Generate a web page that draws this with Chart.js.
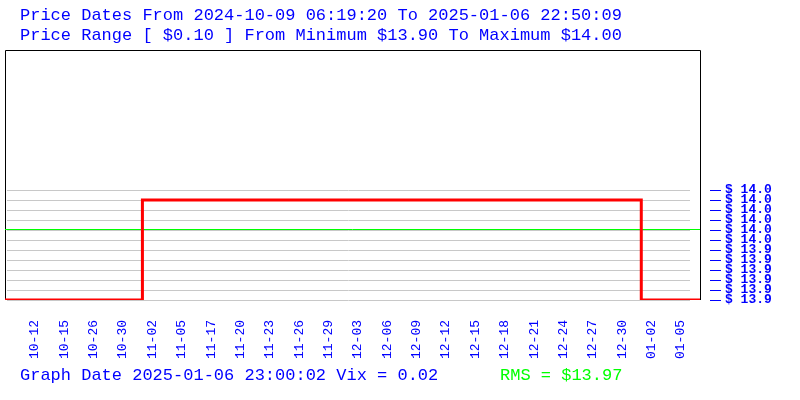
<!DOCTYPE html>
<html>
<head>
<meta charset="utf-8">
<script src="https://cdn.jsdelivr.net/npm/chart.js@4/dist/chart.umd.min.js"></script>
<style>
html,body{margin:0;padding:0;background:#fff;}
#wrap{width:800px;height:400px;position:relative;}
</style>
</head>
<body>
<div id="wrap"><canvas id="c" width="800" height="400"></canvas></div>
<script>
// ---- Data ----
const titleLines = [
  'Price Dates From 2024-10-09 06:19:20 To 2025-01-06 22:50:09',
  'Price Range [ $0.10 ] From Minimum $13.90 To Maximum $14.00'
];
const footerText = 'Graph Date 2025-01-06 23:00:02 Vix = 0.02';
const rmsText = 'RMS = $13.97';
const tickLabels = ['10-12','10-15','10-26','10-30','11-02','11-05','11-17','11-20','11-23','11-26','11-29','12-03','12-06','12-09','12-12','12-15','12-18','12-21','12-24','12-27','12-30','01-02','01-05'];
const samplesPerTick = 10;
const firstSample = -0.2;
const lastSample = 236.5;
const priceSamples = [-0.2, 46.6, 216.5, 236.5];
const priceValues = [13.90, 14.00, 13.90, 13.90];
const rmsValue = 13.9705;
const yTickValues = [13.90, 13.91, 13.92, 13.93, 13.94, 13.95, 13.96, 13.97, 13.98, 13.99, 14.00, 14.01];
const yMin = 13.90;
const yMax = 14.15;

const BLUE = '#0000ff';
const GREEN = '#00ff00';
const MONO = '"Liberation Mono", "DejaVu Sans Mono", monospace';

const pricePoints = priceSamples.map((s, i) => ({x: s, y: priceValues[i]}));
const rmsPoints = [{x: firstSample, y: rmsValue}, {x: lastSample, y: rmsValue}];

const decorPlugin = {
  id: 'decor',
  beforeDatasetsDraw(chart) {
    const {ctx, chartArea: a, scales} = chart;
    const ys = scales.y;
    ctx.save();
    // grid lines
    ctx.strokeStyle = '#c8c8c8';
    ctx.lineWidth = 1;
    yTickValues.forEach(v => {
      const py = Math.round(ys.getPixelForValue(v)) + 0.5;
      ctx.beginPath();
      ctx.moveTo(a.left + 2, py);
      ctx.lineTo(a.right - 10, py);
      ctx.stroke();
    });
    // frame (left, top, right)
    ctx.strokeStyle = '#000';
    ctx.beginPath();
    ctx.moveTo(a.left + 0.5, a.bottom);
    ctx.lineTo(a.left + 0.5, a.top + 0.5);
    ctx.lineTo(a.right + 0.5, a.top + 0.5);
    ctx.lineTo(a.right + 0.5, a.bottom);
    ctx.stroke();
    // axis tick dashes
    ctx.strokeStyle = BLUE;
    yTickValues.forEach(v => {
      const py = Math.round(ys.getPixelForValue(v)) + 0.5;
      ctx.beginPath();
      ctx.moveTo(a.right + 10, py);
      ctx.lineTo(a.right + 21, py);
      ctx.stroke();
    });
    ctx.restore();
  },
  afterDraw(chart) {
    const {ctx} = chart;
    ctx.save();
    ctx.font = '17px ' + MONO;
    ctx.textBaseline = 'alphabetic';
    ctx.textAlign = 'left';
    ctx.fillStyle = BLUE;
    ctx.fillText(titleLines[0], 20, 20);
    ctx.fillText(titleLines[1], 20, 40);
    ctx.fillText(footerText, 20, 380);
    ctx.fillStyle = GREEN;
    ctx.fillText(rmsText, 500, 380);
    ctx.restore();
  }
};

new Chart(document.getElementById('c'), {
  type: 'line',
  data: {
    datasets: [
      {
        label: 'RMS',
        data: rmsPoints,
        borderColor: GREEN,
        borderWidth: 1,
        pointRadius: 0,
        order: 2
      },
      {
        label: 'Price',
        data: pricePoints,
        borderColor: '#ff0000',
        borderWidth: 3,
        stepped: 'before',
        pointRadius: 0,
        order: 1
      }
    ]
  },
  options: {
    responsive: false,
    animation: false,
    devicePixelRatio: 1,
    layout: {padding: {left: 5, top: 50, right: 0, bottom: 0}},
    plugins: {legend: {display: false}, tooltip: {enabled: false}, title: {display: false}},
    scales: {
      x: {
        type: 'linear',
        min: firstSample,
        max: lastSample,
        afterBuildTicks(scale) {
          scale.ticks = tickLabels.map((_, i) => ({value: (i + 1) * samplesPerTick}));
        },
        afterFit(scale) { scale.height = 100; },
        grid: {display: false, drawTicks: false},
        border: {display: false},
        ticks: {
          autoSkip: false,
          minRotation: 90,
          maxRotation: 90,
          padding: 20,
          color: BLUE,
          font: {family: MONO, size: 13},
          callback: (v, i) => tickLabels[i]
        }
      },
      y: {
        type: 'linear',
        position: 'right',
        min: yMin,
        max: yMax,
        afterBuildTicks(scale) {
          scale.ticks = yTickValues.map(v => ({value: v}));
        },
        afterFit(scale) { scale.width = 100; },
        grid: {display: false, drawTicks: false},
        border: {display: false},
        ticks: {
          autoSkip: false,
          padding: 25,
          color: BLUE,
          font: {family: MONO, size: 13, weight: 'bold'},
          callback: v => '$ ' + v.toFixed(1)
        }
      }
    }
  },
  plugins: [decorPlugin]
});
</script>
</body>
</html>
